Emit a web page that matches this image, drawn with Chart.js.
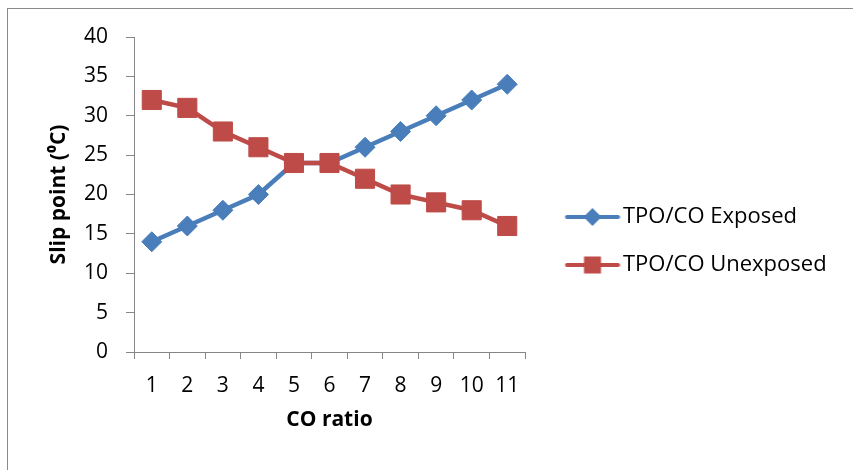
<!DOCTYPE html>
<html>
<head>
<meta charset="utf-8">
<script src="https://cdn.jsdelivr.net/npm/chart.js@4/dist/chart.umd.min.js"></script>
<style>
  body { margin: 0; background: #fff; overflow: hidden; }
  #frame { position: absolute; left: 7px; top: 8px; width: 900px; height: 500px; border: 1px solid #8a8a8a; }
  #Linechart { position: absolute; left: 0; top: 0; }
</style>
</head>
<body>
<div id="frame"></div>
<canvas id="Linechart" width="853" height="470"></canvas>
<script>
// values
const categories = ["1", "2", "3", "4", "5", "6", "7", "8", "9", "10", "11"];
const exposedValues = [14, 16, 18, 20, 24, 24, 26, 28, 30, 32, 34];
const unexposedValues = [32, 31, 28, 26, 24, 24, 22, 20, 19, 18, 16];
const seriesNames = ["TPO/CO Exposed", "TPO/CO Unexposed"];
const xTitle = "CO ratio";
const yTitle = "Slip point (\u2070C)";

const blue = "#4a7ebb";
const red = "#be4b48";
const fontName = "'Open Sans'";
const fontSize = 21;
const legendFontSize = 22;

// legend icon: line with marker in the middle, like the Excel legend
function makeIcon(color, shape) {
    let c = document.createElement("canvas");
    c.width = 78;
    c.height = 24;
    let ctx = c.getContext("2d");
    ctx.strokeStyle = color;
    ctx.lineWidth = 4;
    ctx.lineCap = "round";
    ctx.beginPath();
    ctx.moveTo(24.5, 12);
    ctx.lineTo(75.5, 12);
    ctx.stroke();
    ctx.fillStyle = color;
    if (shape == "diamond") {
        ctx.beginPath();
        ctx.moveTo(50, 3);
        ctx.lineTo(59, 12);
        ctx.lineTo(50, 21);
        ctx.lineTo(41, 12);
        ctx.closePath();
        ctx.fill();
    } else {
        ctx.fillRect(41.5, 3.5, 17, 17);
    }
    return c;
}
const icons = [makeIcon(blue, "diamond"), makeIcon(red, "square")];

// legend width = padding + box + font/2 + text + 10, so the plot ends at x=525
const legendPad = 26;
const legendBox = 61;
let mctx = document.createElement("canvas").getContext("2d");
mctx.font = "normal " + legendFontSize + "px " + fontName;
let textW = Math.max(...seriesNames.map(s => mctx.measureText(s).width));
let legendW = legendPad + legendBox + legendFontSize / 2 + textW + 10;
let rightPad = 853 - 525 - legendW;

Chart.defaults.font.family = fontName;
Chart.defaults.font.size = fontSize;
Chart.defaults.color = "#000";

let xAC = document.getElementById("Linechart");
new Chart(xAC, {
    type: "line",
    data: {
        labels: categories,
        datasets: [{
            label: seriesNames[0],
            data: exposedValues,
            borderColor: blue,
            backgroundColor: blue,
            borderWidth: 4.5,
            pointStyle: "rectRot",
            pointRadius: 10,
            pointBorderWidth: 1,
            pointBackgroundColor: blue,
            pointBorderColor: blue,
            order: 1
        }, {
            label: seriesNames[1],
            data: unexposedValues,
            borderColor: red,
            backgroundColor: red,
            borderWidth: 4.5,
            pointStyle: "rect",
            pointRadius: 13.5,
            pointBorderWidth: 1,
            pointBackgroundColor: red,
            pointBorderColor: red,
            order: 0
        }]
    },
    options: {
        responsive: false,
        animation: false,
        devicePixelRatio: 1,
        layout: { padding: { left: 0, top: 37, right: rightPad, bottom: 25 } },
        scales: {
            x: {
                type: "category",
                offset: true,
                afterFit: function (s) { s.height = 93; },
                grid: { offset: true, drawOnChartArea: false, drawTicks: true, tickLength: 7, color: "#868686" },
                border: { color: "#868686", width: 1 },
                ticks: { padding: 14.5, maxRotation: 0, autoSkip: false },
                title: { display: true, text: xTitle, font: { size: 21, weight: "bold" }, padding: { top: 0, bottom: 12 } }
            },
            y: {
                min: 0,
                max: 40,
                afterFit: function (s) { s.width = 134; },
                grid: { drawOnChartArea: false, drawTicks: true, tickLength: 8, color: "#868686" },
                border: { color: "#868686", width: 1 },
                ticks: { stepSize: 5, padding: 18 },
                title: { display: true, text: yTitle, font: { size: 21, weight: "bold" }, padding: { top: 46.5, bottom: 0 } }
            }
        },
        plugins: {
            tooltip: { enabled: false },
            legend: {
                display: true,
                position: "right",
                align: "center",
                maxWidth: legendW + 40,
                labels: {
                    usePointStyle: true,
                    pointStyleWidth: legendBox,
                    padding: legendPad,
                    font: { size: legendFontSize },
                    generateLabels: function (chart) {
                        return chart.data.datasets.map(function (ds, i) {
                            return {
                                text: ds.label,
                                pointStyle: icons[i],
                                fillStyle: ds.borderColor,
                                strokeStyle: ds.borderColor,
                                lineWidth: 0,
                                hidden: false,
                                datasetIndex: i
                            };
                        });
                    }
                }
            }
        }
    }
});
</script>
</body>
</html>
